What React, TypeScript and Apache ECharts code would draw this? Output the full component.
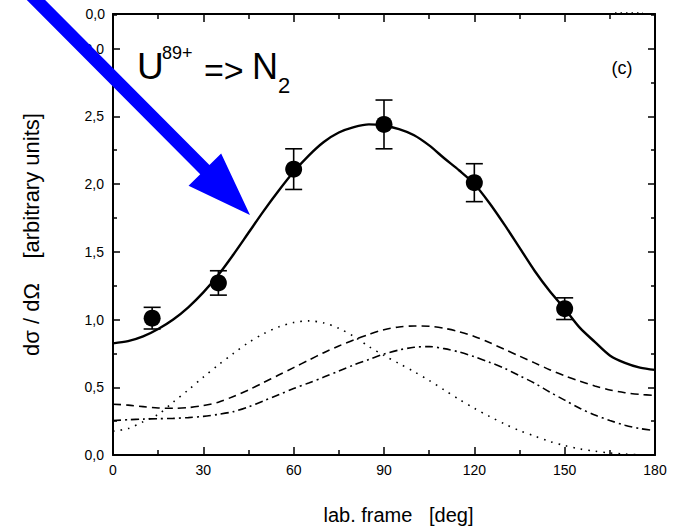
import React, { useEffect, useRef } from "react";
import * as echarts from "echarts";

// ---- data (angle in deg, every 5 deg) ----
const curveX = [
  0, 5, 10, 15, 20, 25, 30, 35, 40, 45, 50, 55, 60, 65, 70, 75, 80, 85, 90,
  95, 100, 105, 110, 115, 120, 125, 130, 135, 140, 145, 150, 155, 160, 165, 170, 175, 180,
];
const fitY = [
  0.824, 0.84, 0.875, 0.93, 1.0, 1.09, 1.2, 1.33, 1.48, 1.64, 1.8, 1.95, 2.09, 2.21, 2.31, 2.38, 2.42, 2.44, 2.43,
  2.405, 2.36, 2.285, 2.19, 2.1, 2.0, 1.86, 1.7, 1.53, 1.36, 1.21, 1.08, 0.94, 0.835, 0.735, 0.68, 0.645, 0.628,
];
const dottedY = [
  0.176, 0.195, 0.245, 0.3, 0.39, 0.48, 0.575, 0.665, 0.75, 0.83, 0.895, 0.945, 0.978, 0.99, 0.975, 0.935, 0.875, 0.8, 0.735,
  0.675, 0.615, 0.55, 0.48, 0.41, 0.345, 0.285, 0.23, 0.18, 0.14, 0.1, 0.07, 0.045, 0.028, 0.015, 0.007, 0.002, 0.0,
];
const dashedY = [
  0.375, 0.368, 0.357, 0.347, 0.345, 0.35, 0.365, 0.39, 0.432, 0.48, 0.535, 0.59, 0.645, 0.7, 0.755, 0.805, 0.85, 0.89, 0.925,
  0.945, 0.952, 0.95, 0.935, 0.91, 0.875, 0.83, 0.78, 0.73, 0.68, 0.63, 0.585, 0.545, 0.51, 0.48, 0.46, 0.447, 0.44,
];
const dashDotY = [
  0.255, 0.26, 0.265, 0.268, 0.27, 0.276, 0.285, 0.3, 0.32, 0.355, 0.4, 0.445, 0.49, 0.532, 0.575, 0.62, 0.665, 0.705, 0.745,
  0.775, 0.795, 0.8, 0.785, 0.76, 0.725, 0.685, 0.64, 0.585, 0.53, 0.465, 0.405, 0.345, 0.295, 0.255, 0.22, 0.195, 0.18,
];

const pointX = [13, 35, 60, 90, 120, 150];
const pointY = [1.01, 1.27, 2.11, 2.44, 2.01, 1.08];
const pointErr = [0.08, 0.09, 0.15, 0.18, 0.14, 0.08];

const xTicks = { min: 0, max: 180, interval: 30 };
const yTicks = { min: 0, max: 3.255, interval: 0.5 };

const FONT = "'Liberation Sans', Arial, Helvetica, sans-serif";

function fmtY(v: number): string {
  const k = v / 0.5;
  if (Math.abs(k - Math.round(k)) > 1e-6) return "";
  return v.toFixed(1).replace(".", ",");
}

function pairs(xs: number[], ys: number[]) {
  return xs.map((x, i) => [x, ys[i]]);
}

export default function App() {
  const ref = useRef<HTMLDivElement>(null);
  useEffect(() => {
    if (!ref.current) return;
    const chart = echarts.init(ref.current, undefined, { renderer: "svg" });

    const tickStyle = { color: "#000", width: 1.5 };
    const baseX = {
      type: "value",
      min: xTicks.min,
      max: xTicks.max,
      interval: xTicks.interval,
      splitLine: { show: false },
      axisLine: { show: true, onZero: false, lineStyle: { color: "#000", width: 2 } },
      axisTick: { show: true, inside: true, length: 8, lineStyle: tickStyle },
      minorTick: { show: true, splitNumber: 2, length: 5, lineStyle: tickStyle },
    };
    const baseY = {
      type: "value",
      min: yTicks.min,
      max: yTicks.max,
      interval: yTicks.interval,
      splitLine: { show: false },
      axisLine: { show: true, onZero: false, lineStyle: { color: "#000", width: 2 } },
      axisTick: { show: true, inside: true, length: 7, lineStyle: tickStyle },
      minorTick: { show: true, splitNumber: 2, length: 4, lineStyle: tickStyle },
    };

    // arrow geometry
    const T = [250, 215];
    const S = [29, -7];
    const dx = T[0] - S[0], dy = T[1] - S[1];
    const L = Math.hypot(dx, dy);
    const d = [dx / L, dy / L];
    const n = [d[1], -d[0]];
    const headLen = 64, shaftHW = 6.5, headHW = 23;
    const B = [T[0] - headLen * d[0], T[1] - headLen * d[1]];
    const P = (p: number[], k: number) => [p[0] + k * n[0], p[1] + k * n[1]];
    const arrowPts = [P(S, shaftHW), P(B, shaftHW), P(B, headHW), T, P(B, -headHW), P(B, -shaftHW), P(S, -shaftHW)];

    const txt = (x: number, y: number, text: string, size: number, align = "left") => ({
      type: "text",
      x,
      y,
      z: 50,
      style: {
        text,
        fill: "#000",
        fontSize: size,
        fontFamily: FONT,
        textAlign: align,
        textVerticalAlign: "middle",
      },
    });

    const curveStyle = (type: any, width: number) => ({ color: "#000", width, type });

    const option: any = {
      animation: false,
      backgroundColor: "#ffffff",
      grid: { left: 113, right: 28, top: 14, bottom: 73, containLabel: false },
      xAxis: [
        {
          ...baseX,
          position: "bottom",
          axisLabel: { color: "#000", fontSize: 14, fontFamily: FONT, margin: 8 },
          name: "lab. frame   [deg]",
          nameLocation: "middle",
          nameGap: 50,
          nameTextStyle: { color: "#000", fontSize: 20, fontFamily: FONT, padding: [0, 0, 0, 29] },
        },
        { ...baseX, position: "top", axisLabel: { show: false } },
      ],
      yAxis: [
        {
          ...baseY,
          position: "left",
          axisLabel: { color: "#000", fontSize: 14, fontFamily: FONT, margin: 9, formatter: fmtY, showMaxLabel: false },
          name: "dσ / dΩ    [arbitrary units]",
          nameLocation: "middle",
          nameGap: 71,
          nameTextStyle: { color: "#000", fontSize: 22, fontFamily: FONT, padding: [0, 0, 0, 0] },
        },
        { ...baseY, position: "right", axisLabel: { show: false } },
      ],
      series: [
        {
          type: "line",
          data: pairs(curveX, dottedY),
          smooth: 0.3,
          symbol: "none",
          lineStyle: curveStyle([1.6, 6], 1.6),
          z: 2,
        },
        {
          type: "line",
          data: pairs(curveX, dashedY),
          smooth: 0.3,
          symbol: "none",
          lineStyle: curveStyle([8, 5], 1.6),
          z: 2,
        },
        {
          type: "line",
          data: pairs(curveX, dashDotY),
          smooth: 0.3,
          symbol: "none",
          lineStyle: curveStyle([8, 4, 2, 4], 1.6),
          z: 2,
        },
        {
          type: "line",
          data: pairs(curveX, fitY),
          smooth: 0.3,
          symbol: "none",
          lineStyle: { color: "#000", width: 2.4 },
          z: 3,
        },
        {
          type: "custom",
          data: pointX.map((x, i) => [x, pointY[i] - pointErr[i], pointY[i] + pointErr[i]]),
          encode: { x: 0, y: [1, 2] },
          z: 4,
          renderItem: (params: any, api: any) => {
            const x = api.value(0);
            const lo = api.value(1);
            const hi = api.value(2);
            const top = api.coord([x, hi]);
            const bot = api.coord([x, lo]);
            const hw = 8.5;
            const style = { stroke: "#000", lineWidth: 1.6 };
            return {
              type: "group",
              children: [
                { type: "line", shape: { x1: top[0], y1: top[1], x2: bot[0], y2: bot[1] }, style },
                { type: "line", shape: { x1: top[0] - hw, y1: top[1], x2: top[0] + hw, y2: top[1] }, style },
                { type: "line", shape: { x1: bot[0] - hw, y1: bot[1], x2: bot[0] + hw, y2: bot[1] }, style },
              ],
            };
          },
        },
        {
          type: "scatter",
          data: pairs(pointX, pointY),
          symbol: "circle",
          symbolSize: 17,
          itemStyle: { color: "#000", opacity: 1 },
          z: 5,
        },
      ],
      graphic: [
        txt(137, 66.5, "U", 37),
        txt(162, 53, "89+", 18),
        txt(204, 70, "=>", 34),
        txt(252, 66.5, "N", 36),
        txt(278, 85, "2", 22),
        txt(622, 68, "(c)", 18, "center"),
        txt(105, 14, "0,0", 14, "right"),
        {
          type: "line",
          z: 10,
          shape: { x1: 615, y1: 13, x2: 643, y2: 13 },
          style: { stroke: "#000", lineWidth: 1.5, lineDash: [1.5, 4] },
        },
        {
          type: "polygon",
          z: 100,
          shape: { points: arrowPts },
          style: { fill: "#0000ff" },
        },
      ],
    };
    chart.setOption(option);
    return () => chart.dispose();
  }, []);

  return (
    <div
      ref={ref}
      style={{ position: "fixed", left: 0, top: 0, width: 683, height: 530, background: "#fff" }}
    />
  );
}
